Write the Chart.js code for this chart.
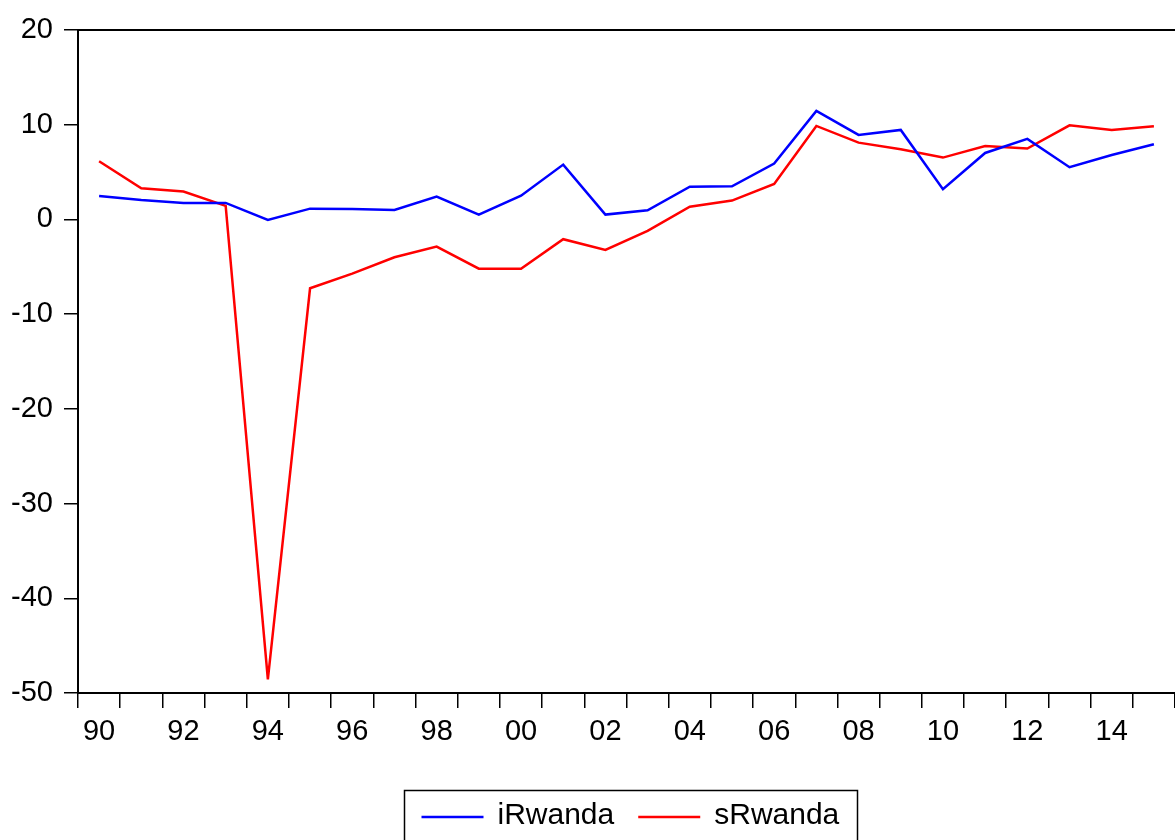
<!DOCTYPE html>
<html>
<head>
<meta charset="utf-8">
<title>iRwanda and sRwanda, 1990-2015</title>
<script src="https://cdn.jsdelivr.net/npm/chart.js@4/dist/chart.umd.min.js"></script>
<style>
  html, body { margin: 0; padding: 0; background: #ffffff; }
  #wrap { width: 1175px; height: 840px; }
  canvas { display: block; }
</style>
</head>
<body>
<div id="wrap"><canvas id="chart" width="1175" height="840"></canvas></div>
<script>
// Annual observations
const years = ['1990','1991','1992','1993','1994','1995','1996','1997','1998','1999',
               '2000','2001','2002','2003','2004','2005','2006','2007','2008','2009',
               '2010','2011','2012','2013','2014','2015'];

const iRwanda = [2.48, 2.06, 1.74, 1.74, -0.05, 1.14, 1.10, 1.00, 2.41, 0.51,
                 2.51, 5.79, 0.51, 0.97, 3.46, 3.50, 5.90, 11.46, 8.92, 9.45,
                 3.19, 7.02, 8.50, 5.51, 6.81, 7.94];

const sRwanda = [6.14, 3.29, 2.94, 1.43, -48.55, -7.27, -5.72, -4.00, -2.87, -5.20,
                 -5.20, -2.09, -3.22, -1.21, 1.35, 1.99, 3.75, 9.87, 8.11, 7.41,
                 6.53, 7.76, 7.48, 9.94, 9.45, 9.84];

// Value axis range and step
const yMin = -50;
const yMax = 20;
const yStep = 10;

// Two-digit year labels, shown on every second year
const xTickLabels = years.map((y, i) => (i % 2 === 0 ? y.slice(2) : ''));

const FONT = '"Liberation Sans", Arial, Helvetica, sans-serif';
Chart.defaults.font.family = FONT;
Chart.defaults.color = '#000000';

// Closes the frame along the top of the plot area
const topFrame = {
  id: 'topFrame',
  afterDraw(chart) {
    const { ctx, chartArea } = chart;
    ctx.save();
    ctx.strokeStyle = '#000000';
    ctx.lineWidth = 2;
    ctx.beginPath();
    ctx.moveTo(chartArea.left - 1, chartArea.top);
    ctx.lineTo(chartArea.right, chartArea.top);
    ctx.stroke();
    ctx.restore();
  }
};

// Boxed legend with line samples, centred under the plot
const boxedLegend = {
  id: 'boxedLegend',
  afterDraw(chart) {
    const { ctx } = chart;
    const sets = chart.data.datasets;
    ctx.save();
    ctx.font = '30px ' + FONT;
    const padL = 17, padR = 18, lineLen = 62, gap = 14, itemGap = 24;
    const widths = sets.map(ds => ctx.measureText(ds.label).width);
    let total = padL + padR + itemGap * (sets.length - 1);
    widths.forEach(w => { total += lineLen + gap + w; });
    const centerX = 630;
    const left = Math.round(centerX - total / 2) + 0.5;
    const top = 790.5;
    ctx.strokeStyle = '#000000';
    ctx.lineWidth = 1.5;
    ctx.strokeRect(left, top, Math.round(total), 80);

    let x = left + padL;
    const lineY = 817;
    const textY = 824;
    sets.forEach((ds, i) => {
      ctx.strokeStyle = ds.borderColor;
      ctx.lineWidth = 2.5;
      ctx.beginPath();
      ctx.moveTo(x, lineY);
      ctx.lineTo(x + lineLen, lineY);
      ctx.stroke();
      x += lineLen + gap;
      ctx.fillStyle = '#000000';
      ctx.textAlign = 'left';
      ctx.textBaseline = 'alphabetic';
      ctx.fillText(ds.label, x, textY);
      x += widths[i] + itemGap;
    });
    ctx.restore();
  }
};

new Chart(document.getElementById('chart'), {
  type: 'line',
  data: {
    labels: years,
    datasets: [
      {
        label: 'iRwanda',
        data: iRwanda,
        borderColor: '#0000ff',
        backgroundColor: '#0000ff',
        borderWidth: 2.5,
        pointRadius: 0,
        pointHoverRadius: 0,
        tension: 0,
        fill: false
      },
      {
        label: 'sRwanda',
        data: sRwanda,
        borderColor: '#ff0000',
        backgroundColor: '#ff0000',
        borderWidth: 2.5,
        pointRadius: 0,
        pointHoverRadius: 0,
        tension: 0,
        fill: false
      }
    ]
  },
  options: {
    responsive: false,
    animation: false,
    devicePixelRatio: 1,
    layout: { padding: { top: 30, right: 0, bottom: 0, left: 0 } },
    plugins: {
      legend: { display: false },
      tooltip: { enabled: false },
      title: { display: false }
    },
    scales: {
      x: {
        type: 'category',
        offset: true,
        grid: {
          display: true,
          offset: true,
          drawOnChartArea: false,
          drawTicks: true,
          tickLength: 15,
          color: '#000000',
          lineWidth: 1.5
        },
        border: { display: true, color: '#000000', width: 2 },
        ticks: {
          autoSkip: false,
          maxRotation: 0,
          minRotation: 0,
          padding: 7,
          font: { size: 29 },
          color: '#000000',
          callback: (value, index) => xTickLabels[index]
        },
        afterFit(scale) { scale.height = 147; }
      },
      y: {
        min: yMin,
        max: yMax,
        grid: {
          display: true,
          drawOnChartArea: false,
          drawTicks: true,
          tickLength: 14,
          color: '#000000',
          lineWidth: 1.5
        },
        border: { display: true, color: '#000000', width: 2 },
        ticks: {
          stepSize: yStep,
          padding: 11,
          font: { size: 29 },
          color: '#000000'
        },
        afterFit(scale) { scale.width = 78; }
      }
    }
  },
  plugins: [topFrame, boxedLegend]
});
</script>
</body>
</html>
